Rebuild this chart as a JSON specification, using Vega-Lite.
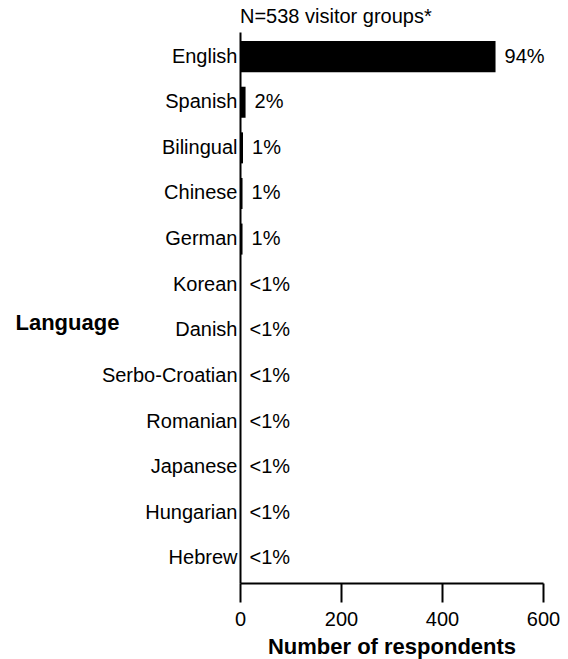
{
  "$schema": "https://vega.github.io/schema/vega-lite/v6.json",
  "autosize": {"type": "none"},
  "width": 303,
  "height": 551,
  "padding": {"left": 240, "top": 32, "right": 25, "bottom": 76},
  "background": "white",
  "config": {"view": {"stroke": null}, "font": "Liberation Sans"},
  "title": {"text": "N=538 visitor groups*", "anchor": "start", "frame": "group", "fontSize": 20, "fontWeight": "normal", "font": "Liberation Sans", "color": "black", "offset": 5},
  "data": {"values": [
    {"language": "English", "count": 506, "pct": "94%"},
    {"language": "Spanish", "count": 11, "pct": "2%"},
    {"language": "Bilingual", "count": 6, "pct": "1%"},
    {"language": "Chinese", "count": 5, "pct": "1%"},
    {"language": "German", "count": 5, "pct": "1%"},
    {"language": "Korean", "count": 1, "pct": "<1%"},
    {"language": "Danish", "count": 1, "pct": "<1%"},
    {"language": "Serbo-Croatian", "count": 1, "pct": "<1%"},
    {"language": "Romanian", "count": 1, "pct": "<1%"},
    {"language": "Japanese", "count": 1, "pct": "<1%"},
    {"language": "Hungarian", "count": 1, "pct": "<1%"},
    {"language": "Hebrew", "count": 1, "pct": "<1%"}
  ]},
  "encoding": {
    "y": {"field": "language", "type": "nominal", "sort": null,
      "scale": {"paddingInner": 0.32, "paddingOuter": 0.2},
      "axis": {"title": "Language", "titleAngle": 0, "titleX": -225, "titleY": 290, "titleAlign": "left", "titleBaseline": "middle", "titleFontSize": 22, "titleFontWeight": "bold", "titleColor": "black", "titleFont": "Liberation Sans",
        "labelFontSize": 20, "labelColor": "black", "labelFont": "Liberation Sans", "labelPadding": 3, "ticks": false, "domainColor": "black", "domainWidth": 2}},
    "x": {"field": "count", "type": "quantitative", "scale": {"domain": [0, 600], "nice": false},
      "axis": {"title": "Number of respondents", "values": [0, 200, 400, 600], "titleFontSize": 22, "titleFontWeight": "bold", "titleColor": "black", "titleFont": "Liberation Sans", "titlePadding": 7,
        "labelFontSize": 20, "labelColor": "black", "labelFont": "Liberation Sans", "labelPadding": 7, "labelFlush": false, "labelOverlap": false, "tickSize": 19, "tickWidth": 2, "tickColor": "black", "domainColor": "black", "domainWidth": 2, "grid": false}}
  },
  "layer": [
    {"mark": {"type": "bar", "color": "black"}},
    {"mark": {"type": "text", "align": "left", "baseline": "middle", "dx": 9, "fontSize": 20, "color": "black", "font": "Liberation Sans"},
     "encoding": {"text": {"field": "pct"}}}
  ]
}
